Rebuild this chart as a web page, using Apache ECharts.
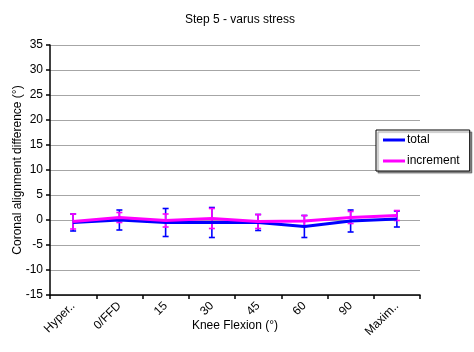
<!DOCTYPE html>
<html>
<head>
<meta charset="utf-8">
<script src="https://cdn.jsdelivr.net/npm/echarts@6/dist/echarts.min.js"></script>
<style>
  html, body { margin: 0; padding: 0; background: #fff; }
  #chart { width: 474px; height: 352px; }
</style>
</head>
<body>
<div id="chart"></div>
<script>
// 膝关节屈曲角度类别
var categories = ["Hyper..", "0/FFD", "15", "30", "45", "60", "90", "Maxim.."];
var totalValues = [-0.5, 0, -0.5, -0.5, -0.5, -1.3, -0.2, 0.2];
var totalErrors = [1.7, 2.0, 2.8, 3.0, 1.6, 2.2, 2.2, 1.6];
var incrementValues = [-0.3, 0.5, -0.1, 0.3, -0.3, -0.2, 0.5, 0.9];
var incrementErrors = [1.5, 1.0, 1.3, 2.0, 1.4, 1.1, 1.2, 1.0];

var chart = echarts.init(document.getElementById("chart"));

// 误差线
function errorSeries(values, errors, color) {
  var data = values.map(function (v, i) {
    return [i, v - errors[i], v + errors[i]];
  });
  return {
    type: "custom",
    data: data,
    silent: true,
    z: 3,
    renderItem: function (params, api) {
      var lo = api.coord([api.value(0), api.value(1)]);
      var hi = api.coord([api.value(0), api.value(2)]);
      var w = 3;
      var style = { stroke: color, lineWidth: 1.6 };
      return {
        type: "group",
        children: [
          { type: "line", shape: { x1: lo[0], y1: lo[1], x2: hi[0], y2: hi[1] }, style: style },
          { type: "line", shape: { x1: lo[0] - w, y1: lo[1], x2: lo[0] + w, y2: lo[1] }, style: style },
          { type: "line", shape: { x1: hi[0] - w, y1: hi[1], x2: hi[0] + w, y2: hi[1] }, style: style }
        ]
      };
    }
  };
}

var option = {
  animation: false,
  textStyle: { fontFamily: "Liberation Sans, Arial, sans-serif" },
  title: {
    text: "Step 5 - varus stress",
    left: 235,
    textAlign: "center",
    top: 9,
    textStyle: { fontSize: 12, fontWeight: "normal", color: "#000" }
  },
  legend: {
    orient: "vertical",
    left: 376,
    top: 130,
    width: 80,
    padding: [4, 10, 4, 7],
    itemGap: 9,
    itemWidth: 22,
    itemHeight: 3,
    icon: "rect",
    backgroundColor: "#fff",
    borderColor: "#000",
    borderWidth: 1,
    borderRadius: 0,
    shadowColor: "rgba(0,0,0,0.4)",
    shadowOffsetX: 2,
    shadowOffsetY: 2,
    shadowBlur: 1,
    textStyle: { fontSize: 12, color: "#000", padding: [0, 0, 0, -3] },
    data: ["total", "increment"]
  },
  grid: { left: 50, right: 54, top: 45, bottom: 57 },
  xAxis: {
    type: "category",
    data: categories,
    name: "Knee Flexion (°)",
    nameLocation: "middle",
    nameGap: 25,
    nameMoveOverlap: false,
    nameTextStyle: { fontSize: 12, color: "#000" },
    axisLine: { onZero: false, lineStyle: { color: "#000", width: 1.5 } },
    axisTick: { show: true, length: 4, lineStyle: { color: "#000", width: 1.5 } },
    axisLabel: { rotate: 45, fontSize: 12, color: "#000", margin: 9 },
    splitLine: { show: false }
  },
  yAxis: {
    type: "value",
    min: -15,
    max: 35,
    interval: 5,
    name: "Coronal alignment difference (°)",
    nameLocation: "middle",
    nameRotate: 90,
    nameGap: 26,
    nameMoveOverlap: false,
    nameTextStyle: { fontSize: 12, color: "#000" },
    axisLine: { show: true, lineStyle: { color: "#000", width: 1.5 } },
    axisTick: { show: true, length: 4, lineStyle: { color: "#000", width: 1.5 } },
    axisLabel: { fontSize: 12, color: "#000", margin: 7 },
    splitLine: { show: true, lineStyle: { color: "#a6a6a6", width: 1 } }
  },
  series: [
    errorSeries(totalValues, totalErrors, "#0000ff"),
    {
      name: "total",
      type: "line",
      data: totalValues,
      symbol: "none",
      z: 4,
      lineStyle: { color: "#0000ff", width: 3 },
      itemStyle: { color: "#0000ff" }
    },
    errorSeries(incrementValues, incrementErrors, "#ff00ff"),
    {
      name: "increment",
      type: "line",
      data: incrementValues,
      symbol: "none",
      z: 5,
      lineStyle: { color: "#ff00ff", width: 3 },
      itemStyle: { color: "#ff00ff" }
    }
  ]
};
chart.setOption(option);
</script>
</body>
</html>
